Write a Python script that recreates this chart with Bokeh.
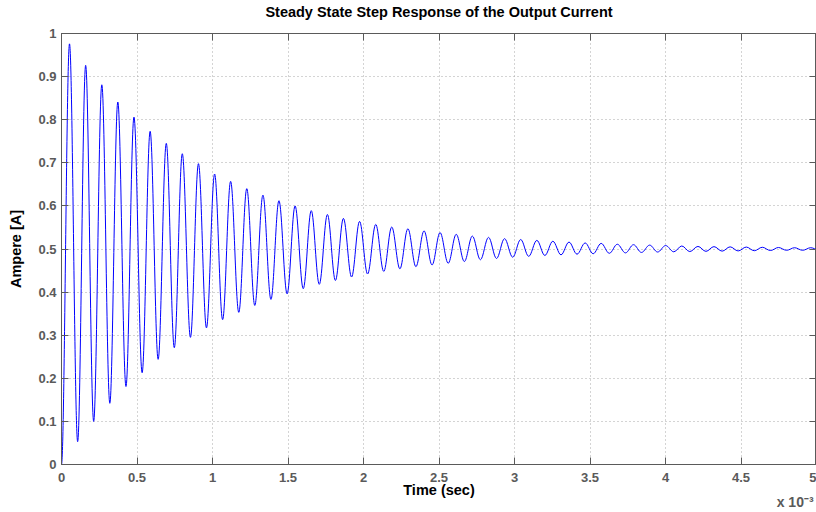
from bokeh.plotting import figure
from bokeh.models import Range1d, LinearAxis, FixedTicker, ColumnDataSource
from bokeh.embed import file_html
from bokeh.resources import INLINE

# ---------------- data (time in units of 1e-3 s) ----------------
start_t = 0.0
start_v = 0.0

peak_t = [0.053, 0.160, 0.267, 0.373, 0.480, 0.587, 0.694, 0.800, 0.907, 1.014,
          1.120, 1.227, 1.334, 1.440, 1.547, 1.654, 1.761, 1.867, 1.974, 2.081,
          2.187, 2.294, 2.401, 2.507, 2.614, 2.721, 2.828, 2.934, 3.041, 3.148,
          3.254, 3.361, 3.468, 3.574, 3.681, 3.788, 3.895, 4.001, 4.108, 4.215,
          4.321, 4.428, 4.535, 4.641, 4.748, 4.855, 4.962]
peak_v = [0.976, 0.926, 0.881, 0.841, 0.806, 0.773, 0.745, 0.721, 0.698, 0.674,
          0.657, 0.640, 0.625, 0.612, 0.600, 0.589, 0.580, 0.571, 0.564, 0.557,
          0.551, 0.547, 0.542, 0.538, 0.534, 0.530, 0.527, 0.524, 0.522, 0.520,
          0.518, 0.516, 0.514, 0.513, 0.511, 0.510, 0.509, 0.508, 0.507, 0.506,
          0.5055, 0.505, 0.5045, 0.504, 0.5035, 0.503, 0.503]

trough_t = [0.107, 0.213, 0.320, 0.427, 0.534, 0.640, 0.747, 0.854, 0.960, 1.067,
            1.174, 1.280, 1.387, 1.494, 1.601, 1.707, 1.814, 1.921, 2.027, 2.134,
            2.241, 2.347, 2.454, 2.561, 2.668, 2.774, 2.881, 2.988, 3.094, 3.201,
            3.308, 3.414, 3.521, 3.628, 3.735, 3.841, 3.948, 4.055, 4.161, 4.268,
            4.375, 4.481, 4.588, 4.695, 4.802, 4.908, 5.015]
trough_v = [0.053, 0.100, 0.142, 0.181, 0.213, 0.244, 0.271, 0.295, 0.317, 0.336,
            0.353, 0.369, 0.383, 0.396, 0.408, 0.418, 0.427, 0.435, 0.442, 0.448,
            0.454, 0.459, 0.463, 0.467, 0.471, 0.475, 0.478, 0.481, 0.483, 0.485,
            0.4865, 0.488, 0.489, 0.490, 0.491, 0.492, 0.493, 0.4935, 0.494, 0.4945,
            0.495, 0.4955, 0.496, 0.4965, 0.497, 0.497, 0.4975]

x_ticks = [0, 0.5, 1, 1.5, 2, 2.5, 3, 3.5, 4, 4.5, 5]
x_tick_labels = ["0", "0.5", "1", "1.5", "2", "2.5", "3", "3.5", "4", "4.5", "5"]
y_ticks = [0, 0.1, 0.2, 0.3, 0.4, 0.5, 0.6, 0.7, 0.8, 0.9, 1]
y_tick_labels = ["0", "0.1", "0.2", "0.3", "0.4", "0.5", "0.6", "0.7", "0.8", "0.9", "1"]

title_text = "Steady State Step Response of the Output Current"
x_label = "Time (sec)"
y_label = "Ampere [A]"
x_exponent = "x 10\u207b\u00b3"

# ---------------- build smooth curve through the extrema ----------------
ext_t = [start_t]
ext_v = [start_v]
for i in range(len(peak_t)):
    ext_t.append(peak_t[i]); ext_v.append(peak_v[i])
    if i < len(trough_t):
        ext_t.append(trough_t[i]); ext_v.append(trough_v[i])

K = 0.3634  # Bezier handle fraction approximating a half cosine
x0 = ext_t[:-1]; x1 = ext_t[1:]
y0 = ext_v[:-1]; y1 = ext_v[1:]
cx0 = [a + K * (b - a) for a, b in zip(x0, x1)]
cx1 = [b - K * (b - a) for a, b in zip(x0, x1)]
src = ColumnDataSource(dict(x0=x0, y0=y0, x1=x1, y1=y1, cx0=cx0, cy0=y0, cx1=cx1, cy1=y1))

FONT = "Liberation Sans"
GRAY = "#5a5a5a"
GRID = "#a8a8a8"

p = figure(width=816, height=512, x_range=Range1d(0, 5), y_range=Range1d(0, 1),
           output_backend="svg", toolbar_location=None,
           min_border_left=61, min_border_right=0, min_border_top=33, min_border_bottom=48)
p.background_fill_color = "white"
p.border_fill_color = "white"
p.outline_line_color = GRAY
p.outline_line_width = 1

xa = p.xaxis[0]
ya = p.yaxis[0]

p.bezier(x0="x0", y0="y0", x1="x1", y1="y1", cx0="cx0", cy0="cy0", cx1="cx1", cy1="cy1",
         source=src, line_color="#0000ff", line_width=1)

xt = FixedTicker(ticks=x_ticks)
yt = FixedTicker(ticks=y_ticks)

def style_axis(ax, ticker, labels_map, show_labels):
    ax.ticker = ticker
    ax.minor_tick_line_color = None
    ax.major_tick_in = 7
    ax.major_tick_out = 0
    ax.axis_line_color = GRAY
    ax.major_tick_line_color = GRAY
    ax.major_label_text_font = FONT
    ax.major_label_text_font_style = "bold"
    ax.major_label_text_color = GRAY
    if show_labels:
        ax.major_label_text_font_size = "13px"
        ax.major_label_overrides = labels_map
    else:
        ax.major_label_text_font_size = "0px"
        ax.major_label_text_color = None
        ax.major_label_standoff = 0

xmap = {t: s for t, s in zip(x_ticks, x_tick_labels)}
ymap = {t: s for t, s in zip(y_ticks, y_tick_labels)}

style_axis(xa, xt, xmap, True)
style_axis(ya, yt, ymap, True)
xa.major_label_standoff = 8
ya.major_label_standoff = 5

top_ax = LinearAxis()
style_axis(top_ax, xt, {}, False)
p.add_layout(top_ax, "above")
right_ax = LinearAxis()
style_axis(right_ax, yt, {}, False)
p.add_layout(right_ax, "right")

# chart title drawn as the label of the top (box) axis
for ax, lab, st in ((xa, x_label, -3), (ya, y_label, 11), (top_ax, title_text, 14)):
    ax.axis_label = lab
    ax.axis_label_text_font = FONT
    ax.axis_label_text_font_style = "bold"
    ax.axis_label_text_font_size = "14.5px"
    ax.axis_label_text_color = "black"
    ax.axis_label_standoff = st

p.xgrid.ticker = xt
p.ygrid.ticker = yt
for g in (p.xgrid[0], p.ygrid[0]):
    g.grid_line_color = GRID
    g.grid_line_dash = "1 3"
    g.grid_line_width = 1

# exponent "x 10^-3": a bare second bottom axis carrying one label near the right end
EXP_POS = 4.897
exp_ax = LinearAxis(ticker=FixedTicker(ticks=[EXP_POS]),
                    major_label_overrides={EXP_POS: x_exponent})
exp_ax.axis_line_color = None
exp_ax.major_tick_line_color = None
exp_ax.minor_tick_line_color = None
exp_ax.major_label_text_font = FONT
exp_ax.major_label_text_font_style = "bold"
exp_ax.major_label_text_font_size = "14px"
exp_ax.major_label_text_color = GRAY
exp_ax.major_label_standoff = -13
p.add_layout(exp_ax, "below")

open("out.html", "w").write(file_html(p, INLINE))
